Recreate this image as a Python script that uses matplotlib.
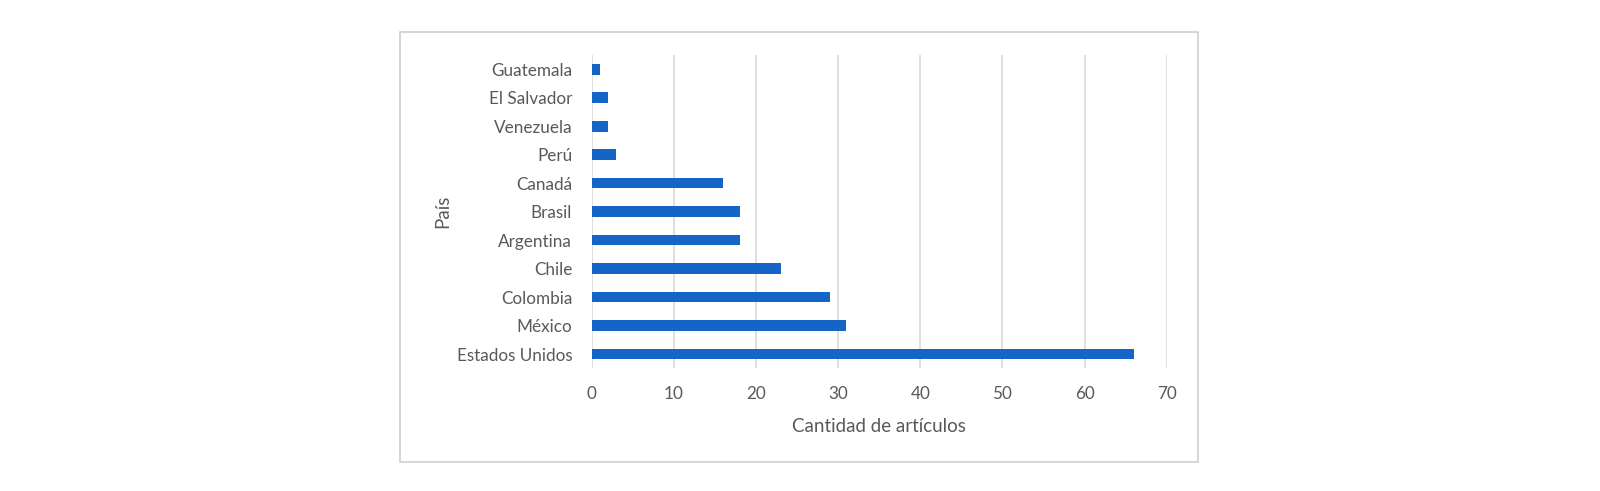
import matplotlib
matplotlib.use("Agg")
import matplotlib.pyplot as plt
from matplotlib.patches import Rectangle

countries = ["Estados Unidos", "México", "Colombia", "Chile", "Argentina", "Brasil",
             "Canadá", "Perú", "Venezuela", "El Salvador", "Guatemala"]
articles = [66, 31, 29, 23, 18, 18, 16, 3, 2, 2, 1]
xticks = [0, 10, 20, 30, 40, 50, 60, 70]

plt.rcParams['font.family'] = ['Lato', 'DejaVu Sans']
text_color = '#595959'

fig = plt.figure(figsize=(16, 4.91), dpi=100)
ax = fig.add_axes([0.3698, 0.2499, 0.3594, 0.638])

ax.barh(range(len(countries)), articles, height=0.37, color='#1565C6', zorder=3)
ax.set_yticks(range(len(countries)))
ax.set_yticklabels(countries)
ax.set_ylim(-0.5, len(countries) - 0.5)
ax.set_xlim(0, 70)
ax.set_xticks(xticks)
ax.set_xticklabels([str(t) for t in xticks])

for s in ax.spines.values():
    s.set_visible(False)
ax.grid(axis='x', color='#d9d9d9', linewidth=1.2, zorder=0)
ax.tick_params(axis='both', length=0, labelsize=12.3, colors=text_color)
ax.tick_params(axis='y', pad=14)
ax.tick_params(axis='x', pad=13)

ax.set_xlabel("Cantidad de artículos", fontsize=13.5, color=text_color, labelpad=11)
ax.set_ylabel("País", fontsize=13.5, color=text_color, labelpad=4)

fig.patches.append(Rectangle((0.25, 0.0597), 0.499, 0.8757, transform=fig.transFigure,
                             fill=False, edgecolor='#d0d0d0', linewidth=1.2))

fig.savefig("out.png", dpi=100)
